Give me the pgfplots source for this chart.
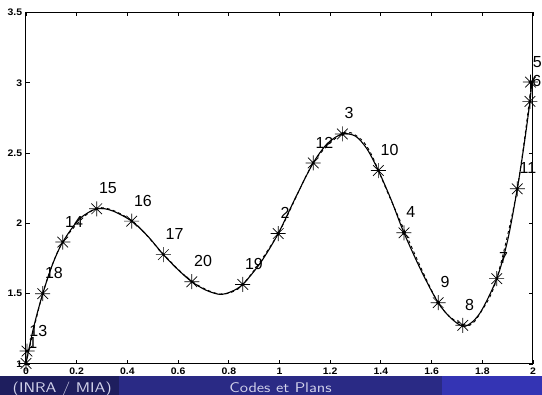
\documentclass[border=0pt]{standalone}
\usepackage{fontspec}
\setmainfont{Liberation Sans}
\usepackage{pgfplots}
\pgfplotsset{compat=1.18}
\definecolor{footA}{HTML}{1E1E5E}
\definecolor{footB}{HTML}{2A2A85}
\definecolor{footC}{HTML}{3434B4}
\definecolor{footT}{HTML}{D4D4EC}
\pgfdeclareplotmark{mstar}{%
  \pgfpathmoveto{\pgfpoint{-\pgfplotmarksize}{0pt}}\pgfpathlineto{\pgfpoint{\pgfplotmarksize}{0pt}}%
  \pgfpathmoveto{\pgfpoint{0pt}{-\pgfplotmarksize}}\pgfpathlineto{\pgfpoint{0pt}{\pgfplotmarksize}}%
  \pgfpathmoveto{\pgfpoint{-0.707\pgfplotmarksize}{-0.707\pgfplotmarksize}}\pgfpathlineto{\pgfpoint{0.707\pgfplotmarksize}{0.707\pgfplotmarksize}}%
  \pgfpathmoveto{\pgfpoint{-0.707\pgfplotmarksize}{0.707\pgfplotmarksize}}\pgfpathlineto{\pgfpoint{0.707\pgfplotmarksize}{-0.707\pgfplotmarksize}}%
  \pgfusepathqstroke}
\pgfplotstableread{
x y
0.000 1.004
0.030 1.260
0.066 1.500
0.105 1.710
0.145 1.867
0.210 2.030
0.279 2.104
0.340 2.090
0.417 2.016
0.480 1.910
0.542 1.778
0.600 1.670
0.654 1.585
0.710 1.525
0.765 1.495
0.810 1.515
0.855 1.566
0.925 1.720
0.995 1.928
1.065 2.190
1.133 2.430
1.190 2.570
1.248 2.636
1.300 2.620
1.345 2.530
1.390 2.376
1.440 2.170
1.491 1.933
1.560 1.660
1.626 1.436
1.680 1.320
1.732 1.268
1.790 1.360
1.857 1.607
1.900 1.880
1.938 2.246
1.965 2.560
1.988 2.868
1.995 3.010
}\curve
\pgfplotstableread{
x y
0.000 1.004
0.066 1.500
0.145 1.867
0.279 2.108
0.417 2.020
0.542 1.780
0.654 1.588
0.765 1.498
0.855 1.566
0.995 1.928
1.133 2.430
1.248 2.640
1.310 2.615
1.360 2.500
1.440 2.165
1.626 1.436
1.740 1.275
1.800 1.385
1.857 1.607
1.938 2.246
1.995 3.010
}\dashcurve
\pgfplotstableread{
x y lab
0.000 1.004 1
0.004 1.092 13
0.066 1.500 18
0.145 1.867 14
0.279 2.104 15
0.417 2.016 16
0.542 1.778 17
0.654 1.585 20
0.855 1.566 19
0.995 1.928 2
1.133 2.430 12
1.248 2.636 3
1.390 2.376 10
1.491 1.933 4
1.626 1.436 9
1.723 1.275 8
1.857 1.607 7
1.938 2.246 11
1.990 3.005 5
1.988 2.868 6
}\pts
\pgfplotstableread{
x y
0.000 1.004
0.995 1.928
1.248 2.636
1.491 1.933
1.626 1.436
1.990 3.005
}\dots
\begin{document}
\begin{tikzpicture}
\useasboundingbox (0,0) rectangle (542pt,395pt);
\fill[white] (0,0) rectangle (542pt,395pt);
\begin{axis}[
  at={(26pt,31pt)}, anchor=south west,
  scale only axis, width=507pt, height=351.5pt,
  xmin=0, xmax=2, ymin=1, ymax=3.5,
  xtick={0,0.2,0.4,0.6,0.8,1,1.2,1.4,1.6,1.8,2},
  xticklabels={0,0.2,0.4,0.6,0.8,1,1.2,1.4,1.6,1.8,2},
  ytick={1,1.5,2,2.5,3,3.5},
  yticklabels={1,1.5,2,2.5,3,3.5},
  tick align=inside, xtick pos=both, ytick pos=both,
  major tick length=4pt,
  axis line style={line width=1pt},
  every tick/.style={black, line width=0.8pt},
  clip=false,
  ticklabel style={font=\bfseries\fontsize{9.5}{10}\selectfont, xscale=1.1},
  /pgf/number format/assume math mode=true,
]
\addplot[black, line width=0.9pt, dashed, smooth] table[x=x,y=y] {\dashcurve};
\addplot[black, line width=1.1pt, smooth] table[x=x,y=y] {\curve};
\addplot[only marks, mark=mstar, mark size=7.5pt, mark options={line width=0.7pt, black},
  nodes near coords, point meta=explicit symbolic,
  every node near coord/.append style={anchor=west, inner sep=0pt, xshift=2pt, yshift=20.5pt,
    font=\fontsize{16}{18}\selectfont, text=black}]
  table[x=x,y=y,meta=lab] {\pts};
\addplot[only marks, mark=*, mark size=1.8pt, black] table[x=x,y=y] {\dots};
\end{axis}
\fill[footA] (0,0) rectangle (119pt,19pt);
\fill[footB] (119pt,0) rectangle (442pt,19pt);
\fill[footC] (442pt,0) rectangle (542pt,19pt);
\node[anchor=base west, inner sep=0pt, xscale=1.2, text=footT] at (12.5pt,2.5pt) {\sffamily\fontsize{14}{16}\selectfont (INRA / MIA)};
\node[anchor=base, inner sep=0pt, xscale=1.2, text=footT] at (280.5pt,2.5pt) {\sffamily\fontsize{14}{16}\selectfont Codes et Plans};
\end{tikzpicture}
\end{document}
